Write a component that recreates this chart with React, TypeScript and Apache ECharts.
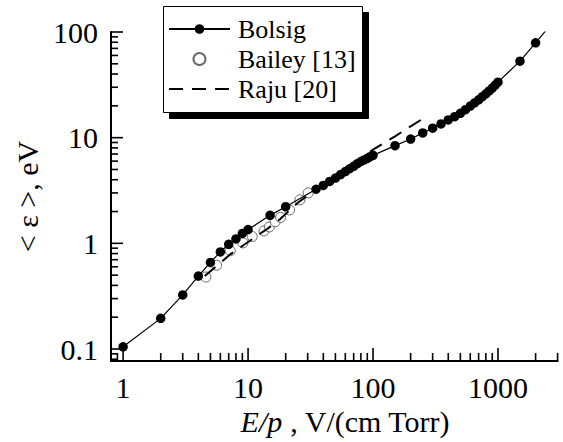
import React, { useEffect, useRef } from "react";
import * as echarts from "echarts";

const X_MIN = 0.8;
const X_MAX = 3000;
const Y_MIN = 0.077;
const Y_MAX = 100;

// Bolsig (filled dots + solid line)
const bolsigX = [1, 2, 3, 4, 5, 6, 7, 8, 9, 10, 15, 20, 35, 40, 45, 50, 55, 60, 65, 70, 75, 80, 85, 90, 95, 100, 150, 200, 250, 300, 350, 400, 450, 500, 550, 600, 650, 700, 750, 800, 850, 900, 950, 1000, 1500, 2000, 3000];
const bolsigY = [0.105, 0.195, 0.325, 0.49, 0.66, 0.83, 0.98, 1.1, 1.24, 1.35, 1.84, 2.22, 3.25, 3.53, 3.85, 4.15, 4.48, 4.78, 5.08, 5.36, 5.68, 5.95, 6.15, 6.38, 6.6, 6.8, 8.4, 9.7, 11.1, 12.3, 13.5, 14.7, 15.8, 17.0, 18.4, 19.9, 21.3, 22.8, 24.4, 26.0, 27.7, 29.5, 31.5, 33.5, 53, 79, 140];

// Bailey [13] (open circles)
const baileyX = [4.6, 5.6, 7.2, 9.1, 10.8, 13.4, 14.8, 16.5, 18.2, 21.5, 26, 30.3];
const baileyY = [0.48, 0.62, 0.85, 1.01, 1.16, 1.31, 1.43, 1.6, 1.76, 2.07, 2.58, 3.0];

// Raju [20] (dashed line)
const rajuX = [4.5, 7.2, 10, 14.1, 18, 25, 30, 50, 100, 150, 200, 268];
const rajuY = [0.49, 0.787, 1.03, 1.36, 1.69, 2.42, 2.84, 4.3, 7.7, 10.3, 12.8, 15.9];

const seriesNames = ["Bolsig", "Bailey [13]", "Raju [20]"];

function logTicks(min: number, max: number) {
  const out: { v: number; major: boolean }[] = [];
  for (let e = -3; e <= 5; e++) {
    for (let m = 1; m <= 9; m++) {
      const v = Number((m * Math.pow(10, e)).toPrecision(6));
      if (v >= min * 0.9999 && v <= max * 1.0001) out.push({ v, major: m === 1 });
    }
  }
  return out;
}

const xTicks = logTicks(X_MIN, X_MAX);
const yTicks = logTicks(Y_MIN, Y_MAX);

const FONT = "'Liberation Serif', 'Times New Roman', serif";

function powLabel(v: number) {
  const l = Math.log10(v);
  if (Math.abs(l - Math.round(l)) > 1e-6) return "";
  const r = Math.round(l);
  if (r >= 0) return String(Math.round(Math.pow(10, r)));
  return String(Number(Math.pow(10, r).toPrecision(1)));
}

const zip = (xs: number[], ys: number[]) => xs.map((x, i) => [x, ys[i]]);

export default function App() {
  const ref = useRef<HTMLDivElement>(null);
  useEffect(() => {
    if (!ref.current) return;
    const chart = echarts.init(ref.current, undefined, { renderer: "svg" });
    const option: any = {
      animation: false,
      backgroundColor: "#fff",
      grid: { left: 111, right: 5.4, top: 32, bottom: 81 },
      graphic: {
        elements: [
          {
            type: "group",
            id: "legendBox",
            left: 163,
            top: 6,
            z: 10,
            children: [
              { type: "rect", id: "legendShadow", z: 10, shape: { x: 6, y: 6, width: 199, height: 106 }, style: { fill: "#000", stroke: "#000" } },
              { type: "rect", id: "legendFrame", z: 11, shape: { x: 0, y: 0, width: 199, height: 106 }, style: { fill: "#fff", stroke: "#000", lineWidth: 1 } },
            ],
          },
        ],
      },
      legend: {
        z: 20,
        left: 168,
        top: 16,
        orient: "vertical",
        itemWidth: 61,
        itemHeight: 12,
        itemGap: 4,
        padding: 0,
        textStyle: { fontFamily: FONT, fontSize: 26, color: "#000", lineHeight: 26, padding: [0, 0, 0, 3] },
        data: [
          { name: seriesNames[0] },
          { name: seriesNames[1], icon: "circle" },
          { name: seriesNames[2], itemStyle: { color: "rgba(0,0,0,0)", borderWidth: 0, opacity: 0 } },
        ],
      },
      xAxis: {
        type: "log",
        min: X_MIN,
        max: X_MAX,
        splitNumber: 4,
        name: "{i|E/p} , V/(cm Torr)",
        nameLocation: "middle",
        nameGap: 44,
        nameTextStyle: {
          fontFamily: FONT,
          fontSize: 30,
          color: "#000",
          padding: [0, 0, 0, 22],
          rich: { i: { fontFamily: FONT, fontSize: 30, fontStyle: "italic", color: "#000" } },
        },
        axisLine: { show: true, onZero: false, lineStyle: { color: "#000", width: 2 } },
        axisTick: { show: false },
        splitLine: { show: false },
        axisLabel: { fontFamily: FONT, fontSize: 30, color: "#000", margin: 11, formatter: powLabel, showMinLabel: false, showMaxLabel: false },
      },
      yAxis: {
        type: "log",
        min: Y_MIN,
        max: Y_MAX,
        splitNumber: 3,
        name: "< ε >, eV",
        nameLocation: "middle",
        nameRotate: 90,
        nameGap: 67,
        nameTextStyle: { fontFamily: FONT, fontSize: 30, color: "#000" },
        axisLine: { show: true, onZero: false, lineStyle: { color: "#000", width: 2 } },
        axisTick: { show: false },
        splitLine: { show: false },
        axisLabel: { fontFamily: FONT, fontSize: 30, color: "#000", margin: 13, formatter: powLabel, showMinLabel: false },
      },
      series: [
        {
          type: "custom",
          name: "xticks",
          coordinateSystem: "cartesian2d",
          clip: false,
          silent: true,
          data: xTicks.map((t) => [t.v, Y_MIN, t.major ? 13 : 8]),
          encode: { x: 0, y: 1 },
          renderItem: (params: any, api: any) => {
            const p = api.coord([api.value(0), api.value(1)]);
            const len = api.value(2);
            return { type: "line", shape: { x1: p[0], y1: p[1], x2: p[0], y2: p[1] - len }, style: { stroke: "#000", lineWidth: 1.6 } };
          },
        },
        {
          type: "custom",
          name: "yticks",
          coordinateSystem: "cartesian2d",
          clip: false,
          silent: true,
          data: yTicks.map((t) => [X_MIN, t.v, t.major ? 12 : 7]),
          encode: { x: 0, y: 1 },
          renderItem: (params: any, api: any) => {
            const p = api.coord([api.value(0), api.value(1)]);
            const len = api.value(2);
            return { type: "line", shape: { x1: p[0], y1: p[1], x2: p[0] + len, y2: p[1] }, style: { stroke: "#000", lineWidth: 1.6 } };
          },
        },
        {
          type: "scatter",
          name: seriesNames[1],
          data: zip(baileyX, baileyY),
          symbol: "circle",
          symbolSize: 10,
          itemStyle: { color: "#fff", borderColor: "#444", borderWidth: 1 },
          z: 2,
        },
        {
          type: "line",
          name: seriesNames[2],
          data: zip(rajuX, rajuY),
          symbol: "none",
          lineStyle: { color: "#000", width: 2, type: [14, 9] },
          itemStyle: { color: "#000" },
          z: 3,
        },
        {
          type: "line",
          name: seriesNames[0],
          data: zip(bolsigX, bolsigY),
          symbol: "circle",
          symbolSize: 9.5,
          showAllSymbol: true,
          clip: true,
          itemStyle: { color: "#000" },
          lineStyle: { color: "#000", width: 1.2 },
          z: 4,
        },
      ],
    };
    chart.setOption(option);
    return () => chart.dispose();
  }, []);
  return <div ref={ref} style={{ position: "fixed", left: 0, top: 0, width: 563, height: 442 }} />;
}
